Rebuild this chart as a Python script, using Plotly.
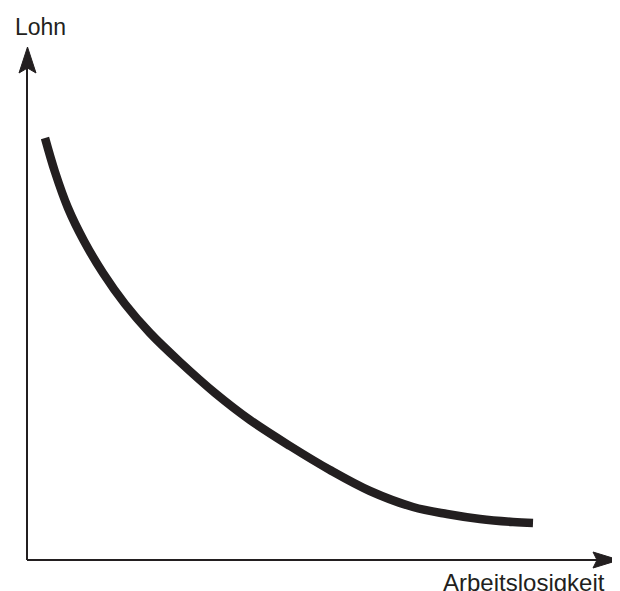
import plotly.graph_objects as go

# Curve data (Arbeitslosigkeit vs. Lohn), in axis units (origin at the axes corner)
arbeitslosigkeit = [3.6, 5.6, 8.2, 11.4, 15.2, 19.6, 24.6, 30.6, 37.6, 44.6, 52.6,
                    60.6, 68.6, 77.2, 84.0, 90.6, 97.2, 101.2]
lohn = [84.4, 77.6, 70.4, 63.8, 57.4, 51.2, 45.4, 39.6, 33.4, 28.0, 22.8,
        18.0, 13.8, 10.6, 9.2, 8.2, 7.6, 7.4]

x_label = "Arbeitslosigkeit"
y_label = "Lohn"

INK = "#231f20"
W, H = 612, 583          # page has an 8px body margin
OFF = 8

fig = go.Figure()
fig.add_trace(go.Scatter(
    x=arbeitslosigkeit, y=lohn, mode="lines",
    line=dict(color=INK, width=8.5, shape="spline", smoothing=1.0),
    hoverinfo="skip", showlegend=False,
))

shapes = [
    dict(type="line", xref="x", yref="y", x0=0, y0=0, x1=0, y1=98.4,
         line=dict(color=INK, width=2)),
    dict(type="line", xref="x", yref="y", x0=0, y0=0, x1=114.0, y1=0,
         line=dict(color=INK, width=2)),
    dict(type="path", xref="x", yref="y",
         path="M 0.1,102.6 L -1.6,97.4 L 0.1,98.4 L 1.8,97.4 Z",
         fillcolor=INK, line=dict(color=INK, width=1)),
    dict(type="path", xref="x", yref="y",
         path="M 118.4,0 L 113.2,1.6 L 114.0,0 L 113.2,-1.6 Z",
         fillcolor=INK, line=dict(color=INK, width=1)),
]

FONT = "Liberation Sans, Arial, sans-serif"
annotations = [
    dict(text=y_label, x=5 / W, y=1 - 4 / H, xref="paper", yref="paper",
         xanchor="left", yanchor="top", showarrow=False,
         font=dict(family=FONT, size=23, color=INK)),
    dict(text=x_label, x=433 / W, y=1 - 559 / H, xref="paper", yref="paper",
         xanchor="left", yanchor="top", showarrow=False,
         font=dict(family=FONT, size=24, color=INK)),
]

fig.update_layout(
    width=W, height=H,
    margin=dict(l=0, r=0, t=0, b=0),
    paper_bgcolor="white", plot_bgcolor="white",
    xaxis=dict(range=[(OFF - 27) / 5, (620 - 27) / 5], visible=False, fixedrange=True),
    yaxis=dict(range=[(560 - 591) / 5, (560 - OFF) / 5], visible=False, fixedrange=True),
    shapes=shapes, annotations=annotations,
    showlegend=False,
)

fig.write_html("out.html")
